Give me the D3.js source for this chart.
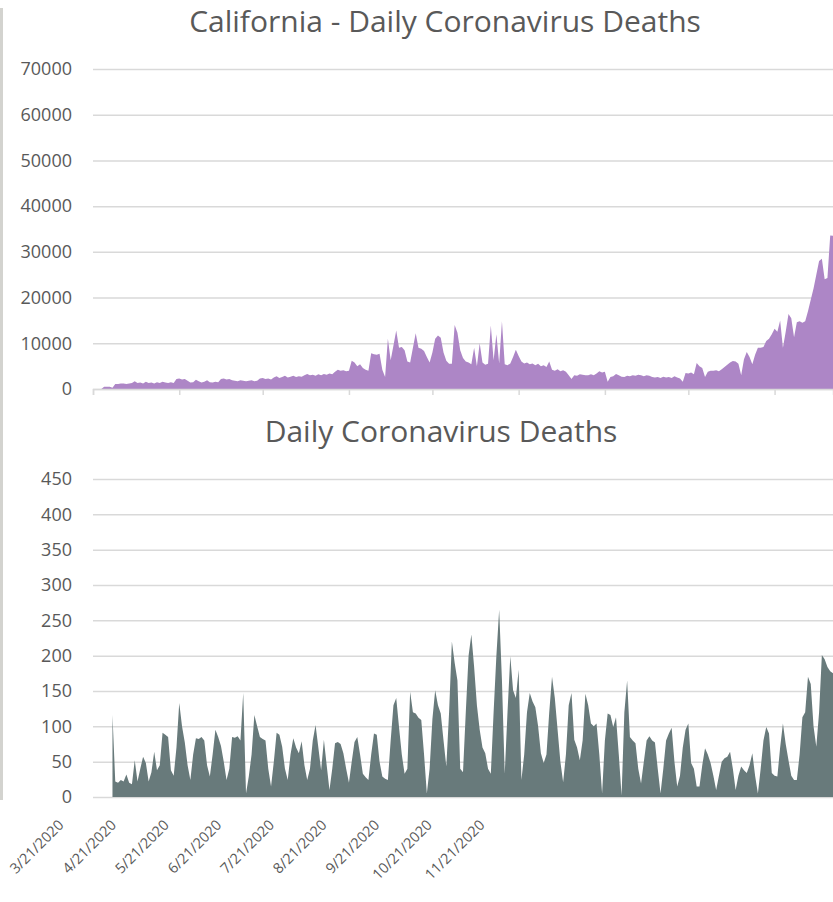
<!DOCTYPE html>
<html>
<head>
<meta charset="utf-8">
<script src="https://cdn.jsdelivr.net/npm/d3@7"></script>
<style>
  body { margin: 0; background: #fff; }
  svg { display: block; }
</style>
</head>
<body>
<div id="chart-container"></div>
<script>
// first day of both series, one value per day after that
const startDate = new Date(2020, 2, 21);
const endDate = new Date(2020, 11, 12);

const monthLabels = ["3/21/2020", "4/21/2020", "5/21/2020", "6/21/2020", "7/21/2020",
  "8/21/2020", "9/21/2020", "10/21/2020", "11/21/2020"];

const topTicks = [0, 10000, 20000, 30000, 40000, 50000, 60000, 70000];
const bottomTicks = [0, 50, 100, 150, 200, 250, 300, 350, 400, 450];

// California - daily values
const californiaValues = [
  0, 0, 0, 0, 500, 500, 500, 300,
  1100, 1100, 1200, 1200, 1100, 1200, 1300, 1700,
  1300, 1400, 1200, 1600, 1300, 1400, 1200, 1500, 1300, 1600, 1400, 1300, 1500, 1300,
  2200, 2300, 2100, 2200, 1800,
  1400, 1500, 2000, 1700, 1400, 1600, 1900, 1500, 1400, 1600, 1500,
  2200, 2300, 2100, 2200, 1900,
  1800, 1700, 1900, 1800, 1700, 1800, 1900, 1700, 1800,
  2300, 2400, 2200, 2300, 2100,
  2500, 2800, 2400, 2600, 2900, 2500, 2700, 2900, 2600, 2800, 2700, 3000, 3300,
  3000, 3100, 2900, 3200, 3000, 3300, 3100, 3400, 3200,
  3800, 4200, 4000, 4100, 3900, 4000,
  6200, 5800, 5000, 5400, 4600, 4200, 4000,
  7800, 7600, 7500, 7700, 4200, 2600,
  11000, 6300, 9500, 12800, 9000, 9200, 8500, 6000, 5800, 9000, 12200, 9000,
  8800, 8300, 7000, 5800, 8000, 11000, 11700, 11200, 8000, 6200, 5500, 5500,
  14000, 12300, 8500, 6800, 6000, 5800, 5400, 9000, 5000, 10000, 5800, 5300,
  5500, 13900, 6300, 12000, 5600, 14800, 5400, 5200, 5600, 7000, 8600, 7200,
  6000, 5600, 5800, 5400, 5600, 5200, 5500, 5000, 5200, 4800,
  6000, 4200, 4000, 4300, 3900, 4100, 3800, 3000, 2200,
  3000, 2900, 3200, 3100, 3000, 3000, 3200, 3000, 3400, 3900, 3600, 3800,
  1600, 2600, 2800, 3300, 3000, 2700, 2600,
  2900, 2800, 3000, 2900, 3100, 3000, 2800, 3000, 2900,
  2600, 2500, 2600, 2400, 2700, 2500, 2600, 2400, 2800, 2500, 2300,
  1600, 3500, 3400, 3600, 3200, 5700, 5000, 4600, 2600,
  3800, 4000, 4000, 4100, 3900, 4300, 4800, 5300, 5800, 6100, 6000, 5500, 3000,
  6500, 8100, 7000, 5400, 7500, 9000, 9000, 9200,
  10500, 11000, 12000, 13200, 12500, 15000, 9000, 12500, 16400, 15500, 11300,
  14600, 14800, 14500, 14800, 17000, 19500, 22000, 25000,
  28000, 28500, 24000, 24300, 33600, 33500, 33400, 33300
];

// Daily deaths (grey area), starts a week after the first date
const deathValues = [
  null, null, null, null, null, null, null,
  116, 22, 20, 24, 22, 32, 20, 18,
  52, 22, 40, 57, 48, 22, 35, 64, 38, 45,
  91, 88, 85, 38, 30, 70, 133, 100, 77, 45,
  24, 60, 83, 82, 85, 80, 45, 29, 60, 95,
  85, 72, 50, 24, 40, 85, 84, 86, 80, 147,
  5, 29, 60, 116, 100, 85, 82, 80, 40, 15,
  50, 91, 88, 71, 40, 24, 60, 83, 70, 62,
  79, 45, 24, 40, 80, 102, 70, 38, 81, 45,
  10, 40, 76, 78, 75, 62, 40, 20, 50, 78,
  85, 60, 33, 28, 24, 60, 90, 88, 50, 29,
  26, 24, 80, 130, 140, 99, 60, 33, 40, 149,
  120, 118, 112, 109, 60, 5, 40, 110, 151, 130,
  118, 80, 43, 120, 220, 190, 165, 40, 35, 120,
  200, 230, 184, 130, 95, 70, 62, 40, 33, 120,
  200, 265, 165, 33, 120, 199, 151, 140, 180, 24,
  60, 120, 147, 135, 127, 100, 62, 48, 60, 120,
  170, 140, 95, 50, 21, 60, 130, 147, 81, 70,
  52, 80, 146, 130, 104, 100, 104, 60, 5, 80,
  118, 116, 99, 113, 60, 2, 120, 165, 85, 80,
  76, 40, 19, 50, 80, 86, 80, 77, 40, 5,
  40, 80, 90, 98, 50, 15, 30, 70, 95, 104,
  48, 40, 15, 15, 45, 69, 60, 48, 30, 10,
  30, 50, 55, 57, 64, 40, 10, 30, 43, 38,
  34, 45, 62, 30, 5, 40, 80, 99, 90, 34,
  30, 29, 70, 104, 75, 52, 30, 24, 24, 60,
  113, 120, 170, 160, 100, 71, 120, 201, 195, 184,
  178, 175, 95, 88
];

const container = document.getElementById("chart-container");

function covidChart() {
  const width = 833;
  const height = 902;
  const marginLeft = 93;
  const plotRight = 833;
  const textColor = "#595959";
  const gridColor = "#d9d9d9";
  const font = "'Open Sans', 'Noto Sans', sans-serif";

  const parseDate = d3.timeParse("%m/%d/%Y");
  const monthDates = monthLabels.map(parseDate);

  const x = d3.scaleTime()
    .domain([startDate, endDate])
    .range([marginLeft, plotRight]);

  const yTop = d3.scaleLinear()
    .domain([0, 70000])
    .range([389, 69]);

  const yBottom = d3.scaleLinear()
    .domain([0, 450])
    .range([797, 479]);

  const svg = d3.create("svg")
    .attr("width", width)
    .attr("height", height)
    .style("font-family", font);

  // grey border on the left edge
  svg.append("line")
    .attr("x1", 1.5).attr("x2", 1.5)
    .attr("y1", 8).attr("y2", 800)
    .attr("stroke", "#d3d3cf")
    .attr("stroke-width", 3);

  svg.append("clipPath")
    .attr("id", "plot-clip")
    .append("rect")
    .attr("x", marginLeft).attr("y", 0)
    .attr("width", plotRight - marginLeft).attr("height", height);

  // y axis with gridlines
  function gridAxis(scale, ticks) {
    return g => g
      .attr("transform", `translate(${marginLeft},0)`)
      .call(d3.axisLeft(scale)
        .tickValues(ticks)
        .tickFormat(d3.format("d"))
        .tickSize(-(plotRight - marginLeft))
        .tickPadding(21))
      .call(g => g.select(".domain").remove())
      .call(g => g.selectAll(".tick line")
        .attr("stroke", gridColor)
        .attr("stroke-width", 1.5))
      .call(g => g.selectAll(".tick text")
        .attr("fill", textColor)
        .attr("font-size", 18)
        .attr("font-family", font));
  }

  const day = (d, i) => x(d3.timeDay.offset(startDate, i));

  // top chart
  svg.append("text")
    .attr("x", 445)
    .attr("y", 32)
    .attr("text-anchor", "middle")
    .attr("font-size", 30)
    .attr("fill", textColor)
    .text("California - Daily Coronavirus Deaths");

  svg.append("g").call(gridAxis(yTop, topTicks));

  svg.append("path")
    .datum(californiaValues)
    .attr("clip-path", "url(#plot-clip)")
    .attr("fill", "#ad86c6")
    .attr("d", d3.area()
      .x(day)
      .y0(yTop(0))
      .y1(d => yTop(d)));

  svg.append("g")
    .attr("transform", `translate(0,${yTop(0)})`)
    .call(d3.axisBottom(x).tickValues(monthDates).tickSize(6).tickFormat(""))
    .call(g => g.select(".domain").attr("stroke", gridColor).attr("stroke-width", 1.5))
    .call(g => g.selectAll(".tick line").attr("stroke", gridColor).attr("stroke-width", 1.5));

  // bottom chart
  svg.append("text")
    .attr("x", 441)
    .attr("y", 442)
    .attr("text-anchor", "middle")
    .attr("font-size", 30)
    .attr("fill", textColor)
    .text("Daily Coronavirus Deaths");

  svg.append("g").call(gridAxis(yBottom, bottomTicks));

  svg.append("path")
    .datum(deathValues)
    .attr("clip-path", "url(#plot-clip)")
    .attr("fill", "#687a7b")
    .attr("d", d3.area()
      .defined(d => d !== null)
      .x(day)
      .y0(yBottom(0))
      .y1(d => yBottom(d)));

  // date labels under the bottom chart
  const labelScale = d3.scalePoint()
    .domain(monthLabels)
    .range([64, 485]);

  svg.append("g")
    .attr("transform", "translate(0,826)")
    .call(d3.axisBottom(labelScale).tickSize(0))
    .call(g => g.select(".domain").remove())
    .call(g => g.selectAll(".tick text")
      .attr("x", 0).attr("y", 0).attr("dy", 0)
      .attr("text-anchor", "end")
      .attr("transform", "rotate(-45)")
      .attr("fill", textColor)
      .attr("font-size", 14.5)
      .attr("font-family", font));

  return svg.node();
}

container.appendChild(covidChart());
</script>
</body>
</html>
